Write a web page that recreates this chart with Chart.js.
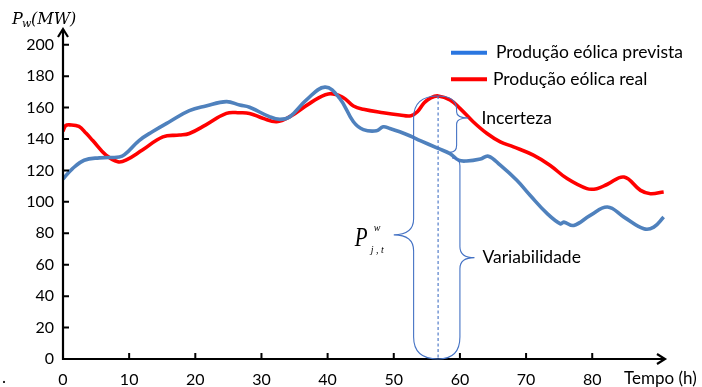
<!DOCTYPE html>
<html>
<head>
<meta charset="utf-8">
<script src="https://cdn.jsdelivr.net/npm/chart.js@4.4.1/dist/chart.umd.min.js"></script>
<style>
  html, body { margin: 0; padding: 0; background: #fff; }
  canvas { display: block; }
</style>
</head>
<body>
<canvas id="chart" width="702" height="387"></canvas>
<script>
// Forecast wind production (hours, MW)
const forecastHours = [0, 1.4, 3.2, 5.5, 8.5, 9.3, 11.5, 13.5, 16.1, 19.1, 21.6, 24.7, 26.7, 28.2, 31.2, 32.8, 34.3, 36.8, 39.6, 41.8, 43.9, 45.4, 47.4, 48.4, 49.4, 50.9, 52.5, 54, 56.7, 58.5, 59.8, 61, 63.1, 64.3, 66.1, 68.6, 70.6, 73.2, 75.2, 75.7, 77.2, 79.7, 82.3, 84.8, 87.8, 89.3, 90.8];
const forecastMW    = [114.5, 121, 126.5, 128, 128.6, 130, 139, 144.6, 151, 158, 161, 163.8, 161.6, 160.2, 154.2, 152.5, 154.2, 164.9, 173, 166, 151, 146, 145.2, 147.8, 146.7, 144.6, 141.9, 139, 134, 130.7, 126.5, 126, 127.3, 129, 123.3, 113.7, 104.2, 92.5, 86, 87.1, 85, 91.4, 96.7, 90.3, 82.9, 83.9, 90.3];

// Actual wind production (hours, MW)
const actualHours = [0, 0.4, 1, 2.4, 3.5, 4.5, 6.5, 8.3, 9.5, 12, 15.1, 17.6, 19.1, 21.6, 24.7, 26.7, 28.2, 30.2, 32.3, 34.3, 37.3, 40.1, 42.3, 43.9, 45.4, 48.4, 50.9, 52.6, 53.6, 54.6, 55.6, 56.7, 58.5, 60, 62, 64.1, 66.1, 68.1, 71.1, 73.6, 76.2, 79.2, 80.7, 82.3, 84.8, 87.3, 88.8, 90.8];
const actualMW    = [145, 148.5, 149, 148, 143.6, 139, 129.7, 125.5, 126.5, 133, 141.4, 142.5, 143.5, 149, 156.3, 156.7, 156.3, 153.2, 151, 154.2, 162.7, 168.7, 166.5, 161, 158.9, 156.7, 155.3, 154.8, 157.5, 163, 166.2, 167.4, 164.9, 159.5, 151, 143.5, 138.2, 135, 129.7, 123.3, 114.8, 108.4, 108.4, 111.2, 115.8, 107.3, 105.2, 106.3];

// Axis ticks
const hourTicks = [0, 10, 20, 30, 40, 50, 60, 70, 80];
const mwTicks = [0, 20, 40, 60, 80, 100, 120, 140, 160, 180, 200];

// Annotation anchors (data units)
const markHour = 56.7;         // dashed reference instant
const markActualMW = 167.4;    // actual production at that instant
const legendLabels = ['Produção eólica prevista', 'Produção eólica real'];

const TEXT_FONT = 'Lato, "Open Sans", sans-serif';

function toPoints(xs, ys) { return xs.map((x, i) => ({ x: x, y: ys[i] })); }

const overlay = {
  id: 'overlay',
  afterDatasetsDraw(chart) {
    const ctx = chart.ctx;
    const sx = chart.scales.x, sy = chart.scales.y;
    const X = v => sx.getPixelForValue(v);
    const Y = v => sy.getPixelForValue(v);
    const area = chart.chartArea;

    ctx.save();
    // axes with arrow heads
    ctx.strokeStyle = '#000';
    ctx.lineWidth = 2.2;
    ctx.lineCap = 'butt';
    ctx.beginPath();
    ctx.moveTo(area.left, area.bottom + 1);
    ctx.lineTo(area.left, area.top);
    ctx.moveTo(area.left - 1, area.bottom);
    ctx.lineTo(area.right, area.bottom);
    ctx.stroke();
    ctx.beginPath();
    ctx.moveTo(area.left - 5, area.top + 8);
    ctx.lineTo(area.left, area.top);
    ctx.lineTo(area.left + 5, area.top + 8);
    ctx.moveTo(area.right - 8, area.bottom - 5);
    ctx.lineTo(area.right, area.bottom);
    ctx.lineTo(area.right - 8, area.bottom + 5);
    ctx.stroke();
    // inward tick marks
    ctx.lineWidth = 2;
    ctx.beginPath();
    sx.ticks.forEach(t => {
      if (t.value === 0) return;
      const px = X(t.value);
      ctx.moveTo(px, area.bottom);
      ctx.lineTo(px, area.bottom - 6);
    });
    sy.ticks.forEach(t => {
      if (t.value === 0) return;
      const py = Y(t.value);
      ctx.moveTo(area.left, py);
      ctx.lineTo(area.left + 6, py);
    });
    ctx.stroke();

    // braces and dashed marker
    const xc = X(markHour), yt = Y(markActualMW), yb = Y(0);
    ctx.strokeStyle = '#4472C4';
    ctx.lineWidth = 1.1;
    ctx.setLineDash([3, 2.5]);
    ctx.beginPath();
    ctx.moveTo(xc, yt);
    ctx.lineTo(xc, yb);
    ctx.stroke();
    ctx.setLineDash([]);

    // total production brace (left)
    const xl = X(53), tipXL = X(50), tipYL = Y(79);
    ctx.beginPath();
    ctx.moveTo(xc, yt);
    ctx.quadraticCurveTo(xl, yt, xl, yt + 22);
    ctx.lineTo(xl, tipYL - 16);
    ctx.quadraticCurveTo(xl, tipYL, tipXL, tipYL);
    ctx.quadraticCurveTo(xl, tipYL, xl, tipYL + 16);
    ctx.lineTo(xl, yb - 22);
    ctx.quadraticCurveTo(xl, yb, xc, yb);
    ctx.stroke();

    // variability brace (right)
    const xr = X(60), topR = Y(128), tipXR = X(62.2), tipYR = Y(64.5);
    ctx.beginPath();
    ctx.moveTo(X(58.8), topR);
    ctx.quadraticCurveTo(xr, topR, xr, topR + 8);
    ctx.lineTo(xr, tipYR - 11);
    ctx.quadraticCurveTo(xr, tipYR, tipXR, tipYR);
    ctx.quadraticCurveTo(xr, tipYR, xr, tipYR + 11);
    ctx.lineTo(xr, yb - 22);
    ctx.quadraticCurveTo(xr, yb, xc, yb);
    ctx.stroke();

    // uncertainty brace
    const xi = X(59.5), tipXI = X(61.3), tipYI = Y(153.4), botI = Y(131.5);
    ctx.beginPath();
    ctx.moveTo(xc, yt);
    ctx.quadraticCurveTo(xi, yt, xi, yt + 14);
    ctx.lineTo(xi, tipYI - 6);
    ctx.quadraticCurveTo(xi, tipYI, tipXI, tipYI);
    ctx.quadraticCurveTo(xi, tipYI, xi, tipYI + 6);
    ctx.lineTo(xi, botI - 7);
    ctx.quadraticCurveTo(xi, botI, X(58.5), botI);
    ctx.stroke();

    // annotation texts
    ctx.fillStyle = '#000';
    ctx.font = '17.5px ' + TEXT_FONT;
    ctx.textBaseline = 'middle';
    ctx.textAlign = 'left';
    ctx.fillText('Incerteza', tipXI + 13, tipYI);
    ctx.fillText('Variabilidade', tipXR + 8, tipYR);

    // P_{j,t}^w symbol
    ctx.textBaseline = 'alphabetic';
    ctx.save();
    ctx.translate(tipXL - 39, tipYL + 11);
    ctx.scale(0.75, 1);
    ctx.font = 'italic 28px "Liberation Serif", serif';
    ctx.fillText('P', 0, 0);
    ctx.restore();
    ctx.font = 'italic 10px "Liberation Serif", serif';
    ctx.fillText('w', tipXL - 20, tipYL - 4);
    ctx.fillText('j , t', tipXL - 23, tipYL + 18);

    // legend
    const legendRows = [[52.7, 496], [79.3, 493]];
    chart.data.datasets.forEach((ds, i) => {
      const [ly, tx] = legendRows[i];
      ctx.strokeStyle = ds.legendColor;
      ctx.lineWidth = 4;
      ctx.beginPath();
      ctx.moveTo(451, ly);
      ctx.lineTo(487, ly);
      ctx.stroke();
      ctx.fillStyle = '#000';
      ctx.font = '17.5px ' + TEXT_FONT;
      ctx.textBaseline = 'middle';
      ctx.fillText(legendLabels[i], tx, ly);
    });

    // axis titles
    ctx.fillStyle = '#000';
    ctx.textBaseline = 'alphabetic';
    ctx.font = 'italic 16px "DejaVu Serif", serif';
    ctx.fillText('P', 12, 24);
    ctx.font = 'italic 11px "DejaVu Serif", serif';
    ctx.fillText('w', 22, 27);
    ctx.font = 'italic 16px "DejaVu Serif", serif';
    ctx.fillText('(MW)', 31, 24);

    ctx.font = '17px ' + TEXT_FONT;
    ctx.textBaseline = 'middle';
    ctx.fillText('Tempo (h)', 624, 379);
    ctx.fillText('.', 2, 378);
    ctx.restore();
  }
};

new Chart(document.getElementById('chart'), {
  type: 'line',
  data: {
    datasets: [
      {
        label: legendLabels[0],
        data: toPoints(forecastHours, forecastMW),
        borderColor: '#4F81BD',
        legendColor: '#2A76E0',
        borderWidth: 3.6,
        pointRadius: 0,
        tension: 0.4,
        fill: false
      },
      {
        label: legendLabels[1],
        data: toPoints(actualHours, actualMW),
        borderColor: '#FF0000',
        legendColor: '#FF0000',
        borderWidth: 3.6,
        pointRadius: 0,
        tension: 0.4,
        fill: false
      }
    ]
  },
  options: {
    responsive: false,
    devicePixelRatio: 1,
    animation: false,
    events: [],
    layout: { padding: { top: 29, right: 37, left: 0, bottom: 0 } },
    plugins: {
      legend: { display: false },
      tooltip: { enabled: false },
      title: { display: false }
    },
    scales: {
      x: {
        type: 'linear',
        min: 0,
        max: 91,
        afterBuildTicks: s => { s.ticks = hourTicks.map(v => ({ value: v })); },
        afterFit: s => { s.height = 28; },
        grid: { display: false, drawTicks: false },
        border: { display: false },
        ticks: {
          padding: 11,
          maxRotation: 0,
          autoSkip: false,
          color: '#000',
          font: { family: TEXT_FONT, size: 16 }
        }
      },
      y: {
        type: 'linear',
        min: 0,
        max: 210,
        afterBuildTicks: s => { s.ticks = mwTicks.map(v => ({ value: v })); },
        afterFit: s => { s.width = 63; },
        grid: { display: false, drawTicks: false },
        border: { display: false },
        ticks: {
          padding: 9,
          autoSkip: false,
          color: '#000',
          font: { family: TEXT_FONT, size: 16 }
        }
      }
    }
  },
  plugins: [overlay]
});
</script>
</body>
</html>
